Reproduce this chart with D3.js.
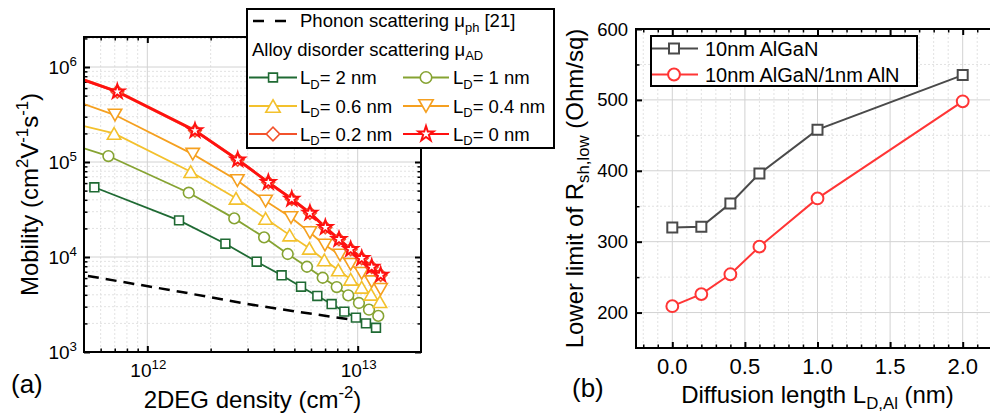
<!DOCTYPE html>
<html>
<head>
<meta charset="utf-8">
<script src="https://cdn.jsdelivr.net/npm/d3@7"></script>
<style>
  body { margin: 0; background: #fff; }
  svg { display: block; font-family: 'Liberation Sans', Arial, sans-serif; }
  .frame { fill: none; stroke: #000; stroke-width: 2; }
  .grid-major { stroke: #d2d2d2; stroke-width: 1; }
  .grid-minor { stroke: #e2e2e2; stroke-width: 1; stroke-dasharray: 2,2; }
  .tick line { stroke: #000; }
</style>
</head>
<body>
<svg id="chart" width="990" height="414"></svg>
<script>
// ---- panel (a): 2DEG density (cm^-2) vs mobility (cm2/Vs), one pair per L_D ----
var dens_LD2  = [5.6e11, 1.415e12, 2.35e12, 3.31e12, 4.35e12, 5.38e12, 6.43e12, 7.52e12, 8.64e12, 9.81e12, 1.095e13, 1.222e13];
var mob_LD2   = [5.42e4, 2.43e4, 1.38e4, 8.92e3, 6.42e3, 4.87e3, 3.89e3, 3.2e3, 2.66e3, 2.3e3, 2.0e3, 1.8e3];
var dens_LD1  = [6.53e11, 1.574e12, 2.59e12, 3.59e12, 4.65e12, 5.74e12, 6.82e12, 7.95e12, 9.02e12, 1.014e13, 1.132e13, 1.253e13];
var mob_LD1   = [1.156e5, 4.75e4, 2.55e4, 1.61e4, 1.076e4, 7.9e3, 6.05e3, 4.83e3, 3.95e3, 3.28e3, 2.79e3, 2.4e3];
var dens_LD06 = [6.95e11, 1.608e12, 2.64e12, 3.65e12, 4.75e12, 5.89e12, 6.94e12, 8.09e12, 9.26e12, 1.045e13, 1.157e13, 1.276e13];
var mob_LD06  = [2.0e5, 7.9e4, 4.15e4, 2.55e4, 1.7e4, 1.235e4, 9.3e3, 7.3e3, 5.83e3, 4.8e3, 4.05e3, 3.38e3];
var dens_LD04 = [7.02e11, 1.644e12, 2.68e12, 3.65e12, 4.82e12, 5.93e12, 6.99e12, 8.24e12, 9.26e12, 1.045e13, 1.166e13, 1.286e13];
var mob_LD04  = [3.12e5, 1.21e5, 6.39e4, 3.88e4, 2.6e4, 1.81e4, 1.337e4, 1.05e4, 8.38e3, 6.74e3, 5.5e3, 4.57e3];
var dens_LD02 = [7.2e11, 1.685e12, 2.69e12, 3.76e12, 4.86e12, 5.93e12, 7.02e12, 8.15e12, 9.26e12, 1.045e13, 1.166e13, 1.286e13];
var mob_LD02  = [5.5e5, 2.14e5, 1.057e5, 6.11e4, 4.08e4, 2.91e4, 2.05e4, 1.536e4, 1.205e4, 9.69e3, 7.85e3, 6.47e3];
var dens_LD0  = [7.2e11, 1.685e12, 2.69e12, 3.76e12, 4.86e12, 5.93e12, 7.02e12, 8.15e12, 9.26e12, 1.045e13, 1.166e13, 1.286e13];
var mob_LD0   = [5.5e5, 2.14e5, 1.057e5, 6.11e4, 4.08e4, 2.91e4, 2.05e4, 1.536e4, 1.205e4, 9.69e3, 7.85e3, 6.47e3];
// mobility where each curve enters at the left edge (5e11 cm^-2); L_D = 2 nm starts at its first marker
var leadMob = [null, 1.39e5, 2.39e5, 4.08e5, 7.3e5, 7.3e5];
var ldLabels = ['2 nm', '1 nm', '0.6 nm', '0.4 nm', '0.2 nm', '0 nm'];

// phonon limited mobility [21]
var dens_ph = [5.22e11, 1.43e12, 2.98e12, 6.13e12, 1.119e13];
var mob_ph  = [6.31e3, 4.31e3, 3.2e3, 2.51e3, 2.07e3];

var xTickExpA = [12, 13];
var yTickExpA = [3, 4, 5, 6];

// ---- panel (b): lower limit of sheet resistance vs Al diffusion length ----
var ldAl = [0, 0.2, 0.4, 0.6, 1.0, 2.0];
var rsh_AlGaN = [320, 321, 354, 396, 458, 535];
var rsh_AlGaN_AlN = [209, 226, 254, 293, 361, 498];
var seriesNamesB = ['10nm AlGaN', '10nm AlGaN/1nm AlN'];
var xTicksB = [0, 0.5, 1.0, 1.5, 2.0];
var yTicksB = [200, 300, 400, 500, 600];

var svg = d3.select('#chart');
svg.append('rect').attr('width', 990).attr('height', 414).attr('fill', '#fff');

// text with sub/superscripts: parts are strings or [str, 'sup'|'sub']
function richText(g, x, y, parts, size, anchor, rotate) {
  var t = g.append('text').attr('x', x).attr('y', y)
    .attr('font-size', size).attr('text-anchor', anchor || 'start').attr('fill', '#000');
  if (rotate) t.attr('transform', 'rotate(' + rotate + ',' + x + ',' + y + ')');
  var shift = 0;
  parts.forEach(function(p) {
    var str = typeof p === 'string' ? p : p[0];
    var kind = typeof p === 'string' ? null : p[1];
    var target = kind === 'sup' ? -size * 0.42 : kind === 'sub' ? size * 0.27 : 0;
    var ts = t.append('tspan').attr('dy', target - shift).text(str);
    if (kind) ts.attr('font-size', size * 0.7);
    shift = target;
  });
  return t;
}

function marker(g, shape, x, y, color, scale) {
  var k = scale || 1, sym, rot = 0, dy = 0, size;
  if (shape === 'square') { sym = d3.symbolSquare; size = 78 * k; }
  else if (shape === 'circle') { sym = d3.symbolCircle; size = 90 * k; }
  else if (shape === 'triUp' || shape === 'triDown') {
    sym = d3.symbolTriangle; size = 78 * k;
    var off = Math.sqrt(size / (3 * Math.sqrt(3))) / 2;
    if (shape === 'triUp') { dy = off; } else { dy = -off; rot = 180; }
  }
  else if (shape === 'diamond') { sym = d3.symbolSquare; size = 80 * k; rot = 45; }
  else { sym = d3.symbolStar; size = 62 * k; }
  g.append('path')
    .attr('d', d3.symbol(sym, size)())
    .attr('transform', 'translate(' + x + ',' + (y + dy) + ') rotate(' + rot + ')')
    .attr('fill', '#fff').attr('stroke', color).attr('stroke-width', shape === 'star' ? 2 : 1.6);
}

/* ================= panel (a) ================= */
var pa = {l: 84, r: 421, t: 37, b: 352};
var xA = d3.scaleLog().domain([5e11, 2e13]).range([pa.l, pa.r]);
var yA = d3.scaleLog().domain([1e3, 2.07e6]).range([pa.b, pa.t]);
var majXA = xTickExpA.map(function(e) { return Math.pow(10, e); });
var majYA = yTickExpA.map(function(e) { return Math.pow(10, e); });
var minXA = xA.ticks().filter(function(v) { return majXA.indexOf(v) < 0 && v > 5e11 && v < 2e13; });
var minYA = yA.ticks().filter(function(v) { return majYA.indexOf(v) < 0 && v < 2.07e6; });

var gA = svg.append('g');
gA.selectAll('.gmx').data(minXA).join('line').attr('class', 'grid-minor')
  .attr('x1', xA).attr('x2', xA).attr('y1', pa.t).attr('y2', pa.b);
gA.selectAll('.gmy').data(minYA).join('line').attr('class', 'grid-minor')
  .attr('y1', yA).attr('y2', yA).attr('x1', pa.l).attr('x2', pa.r);
gA.selectAll('.gMx').data(majXA).join('line').attr('class', 'grid-major')
  .attr('x1', xA).attr('x2', xA).attr('y1', pa.t).attr('y2', pa.b);
gA.selectAll('.gMy').data(majYA.slice(1)).join('line').attr('class', 'grid-major')
  .attr('y1', yA).attr('y2', yA).attr('x1', pa.l).attr('x2', pa.r);

// inward ticks on all four sides
function ticksA(axisFn, scale, vals, len, tr) {
  var a = gA.append('g').attr('transform', tr)
    .call(axisFn(scale).tickValues(vals).tickSize(-len).tickFormat(''));
  a.select('.domain').remove();
  a.selectAll('.tick line').attr('stroke-width', len > 4 ? 2 : 1.5);
}
ticksA(d3.axisBottom, xA, majXA, 6, 'translate(0,' + pa.b + ')');
ticksA(d3.axisBottom, xA, minXA, 3.5, 'translate(0,' + pa.b + ')');
ticksA(d3.axisTop, xA, majXA, 6, 'translate(0,' + pa.t + ')');
ticksA(d3.axisTop, xA, minXA, 3.5, 'translate(0,' + pa.t + ')');
ticksA(d3.axisLeft, yA, majYA, 6, 'translate(' + pa.l + ',0)');
ticksA(d3.axisLeft, yA, minYA, 3.5, 'translate(' + pa.l + ',0)');
ticksA(d3.axisRight, yA, majYA, 6, 'translate(' + pa.r + ',0)');
ticksA(d3.axisRight, yA, minYA, 3.5, 'translate(' + pa.r + ',0)');

svg.append('clipPath').attr('id', 'clipA').append('rect')
  .attr('x', pa.l).attr('y', pa.t).attr('width', pa.r - pa.l).attr('height', pa.b - pa.t);
var dataA = gA.append('g').attr('clip-path', 'url(#clipA)');
var lineA = d3.line().x(function(d) { return xA(d[0]); }).y(function(d) { return yA(d[1]); });

// phonon dashed line
dataA.append('path').datum(d3.zip(dens_ph, mob_ph)).attr('d', lineA)
  .attr('fill', 'none').attr('stroke', '#000').attr('stroke-width', 2.5).attr('stroke-dasharray', '11,7');

var seriesA = [
  {dens: dens_LD2,  mob: mob_LD2,  color: '#1f6a33', shape: 'square',  w: 1.8},
  {dens: dens_LD1,  mob: mob_LD1,  color: '#86a332', shape: 'circle',  w: 1.8},
  {dens: dens_LD06, mob: mob_LD06, color: '#f3c12d', shape: 'triUp',   w: 1.8},
  {dens: dens_LD04, mob: mob_LD04, color: '#f5a020', shape: 'triDown', w: 1.8},
  {dens: dens_LD02, mob: mob_LD02, color: '#f2522c', shape: 'diamond', w: 3},
  {dens: dens_LD0,  mob: mob_LD0,  color: '#ff1010', shape: 'star',    w: 2.6}
];
seriesA.forEach(function(s, i) {
  var pts = d3.zip(s.dens, s.mob);
  if (leadMob[i] !== null) pts.unshift([5e11, leadMob[i]]);
  dataA.append('path').datum(pts).attr('d', lineA)
    .attr('fill', 'none').attr('stroke', s.color).attr('stroke-width', s.w);
});
seriesA.forEach(function(s) {
  s.dens.forEach(function(n, j) { marker(gA, s.shape, xA(n), yA(s.mob[j]), s.color); });
});

gA.append('rect').attr('class', 'frame')
  .attr('x', pa.l).attr('y', pa.t).attr('width', pa.r - pa.l).attr('height', pa.b - pa.t);

// tick labels
majYA.forEach(function(v, i) {
  richText(gA, 77, yA(v) + 6.5, ['10', [String(yTickExpA[i]), 'sup']], 19, 'end');
});
majXA.forEach(function(v, i) {
  richText(gA, xA(v) + 1, 377, ['10', [String(xTickExpA[i]), 'sup']], 19, 'middle');
});
richText(gA, 38, (pa.t + pa.b) / 2,
  ['Mobility (cm', ['2', 'sup'], 'V', ['-1', 'sup'], 's', ['-1', 'sup'], ')'], 24, 'middle', -90);
richText(gA, (pa.l + pa.r) / 2, 408, ['2DEG density (cm', ['-2', 'sup'], ')'], 24, 'middle');
richText(gA, 11, 393, ['(a)'], 26, 'start');

// legend (a)
var legA = svg.append('g');
legA.append('rect').attr('x', 247).attr('y', 9).attr('width', 307).attr('height', 139)
  .attr('fill', '#fff').attr('stroke', '#000').attr('stroke-width', 2);
legA.append('line').attr('x1', 253).attr('x2', 287).attr('y1', 21).attr('y2', 21)
  .attr('stroke', '#000').attr('stroke-width', 2.5).attr('stroke-dasharray', '11,11');
richText(legA, 300, 27, ['Phonon scattering \u03bc', ['ph', 'sub'], ' [21]'], 18.5, 'start');
richText(legA, 252, 55.5, ['Alloy disorder scattering \u03bc', ['AD', 'sub']], 18.5, 'start');
var colX = [{x1: 249, x2: 297, m: 273, t: 300}, {x1: 403, x2: 449, m: 426, t: 453}];
var rowY = [77.5, 106, 134];
seriesA.forEach(function(s, i) {
  var c = colX[i % 2], y = rowY[Math.floor(i / 2)];
  legA.append('line').attr('x1', c.x1).attr('x2', c.x2).attr('y1', y).attr('y2', y)
    .attr('stroke', s.color).attr('stroke-width', 1.8);
  marker(legA, s.shape, c.m, y, s.color, s.shape === 'square' ? 1 : 1.15);
  richText(legA, c.t, y + 6.5, ['L', ['D', 'sub'], '= ' + ldLabels[i]], 18.5, 'start');
});

/* ================= panel (b) ================= */
var pb = {l: 636, r: 999, t: 29, b: 348};
var xB = d3.scaleLinear().domain([-0.25, 2.25]).range([pb.l, pb.r]);
var yB = d3.scaleLinear().domain([150, 600]).range([pb.b, pb.t]);
var allXB = xB.ticks(20).filter(function(v) { return v > -0.25 && v < 2.25; });
var minXB = allXB.filter(function(v) { return xTicksB.indexOf(v) < 0; });
var minYB = d3.range(250, 600, 100);

var gB = svg.append('g');
gB.selectAll('.gmx').data(minXB).join('line').attr('class', 'grid-minor')
  .attr('x1', xB).attr('x2', xB).attr('y1', pb.t).attr('y2', pb.b);
gB.selectAll('.gmy').data(minYB).join('line').attr('class', 'grid-minor')
  .attr('y1', yB).attr('y2', yB).attr('x1', pb.l).attr('x2', pb.r);
gB.selectAll('.gMx').data(xTicksB).join('line').attr('class', 'grid-major')
  .attr('x1', xB).attr('x2', xB).attr('y1', pb.t).attr('y2', pb.b);
gB.selectAll('.gMy').data(yTicksB.slice(0, -1)).join('line').attr('class', 'grid-major')
  .attr('y1', yB).attr('y2', yB).attr('x1', pb.l).attr('x2', pb.r);

function ticksB(axisFn, scale, vals, len, tr) {
  var a = gB.append('g').attr('transform', tr)
    .call(axisFn(scale).tickValues(vals).tickSize(-len).tickFormat(''));
  a.select('.domain').remove();
  a.selectAll('.tick line').attr('stroke-width', len > 4 ? 2 : 1.5);
}
ticksB(d3.axisBottom, xB, xTicksB, 6, 'translate(0,' + pb.b + ')');
ticksB(d3.axisBottom, xB, minXB, 3.5, 'translate(0,' + pb.b + ')');
ticksB(d3.axisTop, xB, xTicksB, 6, 'translate(0,' + pb.t + ')');
ticksB(d3.axisTop, xB, minXB, 3.5, 'translate(0,' + pb.t + ')');
ticksB(d3.axisLeft, yB, yTicksB, 6, 'translate(' + pb.l + ',0)');
ticksB(d3.axisLeft, yB, minYB, 3.5, 'translate(' + pb.l + ',0)');

var lineB = d3.line().x(function(d) { return xB(d[0]); }).y(function(d) { return yB(d[1]); });
var seriesB = [
  {vals: rsh_AlGaN, color: '#4a4a4a', shape: 'square'},
  {vals: rsh_AlGaN_AlN, color: '#ff3535', shape: 'circle'}
];
seriesB.forEach(function(s) {
  gB.append('path').datum(d3.zip(ldAl, s.vals)).attr('d', lineB)
    .attr('fill', 'none').attr('stroke', s.color).attr('stroke-width', 2);
});
seriesB.forEach(function(s) {
  ldAl.forEach(function(v, j) {
    gB.append('path')
      .attr('d', d3.symbol(s.shape === 'square' ? d3.symbolSquare : d3.symbolCircle, s.shape === 'square' ? 100 : 110)())
      .attr('transform', 'translate(' + xB(v) + ',' + yB(s.vals[j]) + ')')
      .attr('fill', '#fff').attr('stroke', s.color).attr('stroke-width', 2);
  });
});

gB.append('rect').attr('class', 'frame')
  .attr('x', pb.l).attr('y', pb.t).attr('width', pb.r - pb.l).attr('height', pb.b - pb.t);

yTicksB.forEach(function(v) {
  richText(gB, 628, yB(v) + 6.5, [String(v)], 18.5, 'end');
});
xTicksB.forEach(function(v) {
  richText(gB, xB(v), 374, [d3.format('.1f')(v)], 22, 'middle');
});
richText(gB, 583, (pb.t + pb.b) / 2,
  ['Lower limit of R', ['sh,low', 'sub'], ' (Ohm/sq)'], 24, 'middle', -90);
richText(gB, (pb.l + pb.r) / 2, 403, ['Diffusion length L', ['D,Al', 'sub'], ' (nm)'], 24, 'middle');
richText(gB, 572, 397, ['(b)'], 26, 'start');

// legend (b)
var legB = svg.append('g');
legB.append('rect').attr('x', 651).attr('y', 36).attr('width', 266).attr('height', 50)
  .attr('fill', '#fff').attr('stroke', '#000').attr('stroke-width', 2);
seriesB.forEach(function(s, i) {
  var y = 48.5 + i * 26;
  legB.append('line').attr('x1', 652).attr('x2', 698).attr('y1', y).attr('y2', y)
    .attr('stroke', s.color).attr('stroke-width', 2);
  legB.append('path')
    .attr('d', d3.symbol(s.shape === 'square' ? d3.symbolSquare : d3.symbolCircle, s.shape === 'square' ? 100 : 110)())
    .attr('transform', 'translate(674,' + y + ')')
    .attr('fill', '#fff').attr('stroke', s.color).attr('stroke-width', 2);
  richText(legB, 705, y + 7, [seriesNamesB[i]], 20, 'start');
});
</script>
</body>
</html>
